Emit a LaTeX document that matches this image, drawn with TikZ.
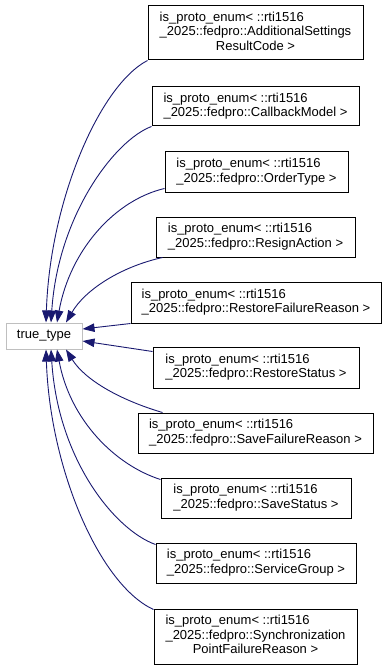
\documentclass[tikz,border=0pt]{standalone}
\usepackage{fontspec}
\setmainfont{Liberation Sans}
\usetikzlibrary{arrows.meta}
\definecolor{edgeblue}{HTML}{191970}
\definecolor{ttgray}{HTML}{BFBFBF}
\newcommand{\twol}[2]{\begin{tabular}{@{}l@{}}#1\\#2\end{tabular}}
\newcommand{\threel}[3]{\begin{tabular}{@{}l@{}}#1\\#2\\\multicolumn{1}{@{}c@{}}{#3}\end{tabular}}
\begin{document}
\begin{tikzpicture}[x=1pt,y=1pt,
 cls/.style={draw=black, line width=1pt, fill=white, inner sep=0pt, font=\fontsize{13}{14.5}\selectfont},
 base/.style={draw=ttgray, line width=1pt, fill=white, inner sep=0pt, font=\fontsize{13}{14.5}\selectfont},
 edge/.style={draw=edgeblue, line width=0.9pt, -{Triangle[length=12pt,width=8.5pt]}}]
\useasboundingbox (0,0) rectangle (387,-671);
\node[cls, minimum width=215pt, minimum height=54pt] (b1) at (255.5,-33) {\threel{is\_proto\_enum< ::rti1516}{\_2025::fedpro::AdditionalSettings}{ResultCode >}};
\node[cls, minimum width=207pt, minimum height=39pt] (b2) at (255.5,-106.5) {\twol{is\_proto\_enum< ::rti1516}{\_2025::fedpro::CallbackModel >}};
\node[cls, minimum width=183pt, minimum height=40pt] (b3) at (256.5,-172) {\twol{is\_proto\_enum< ::rti1516}{\_2025::fedpro::OrderType >}};
\node[cls, minimum width=199pt, minimum height=40pt] (b4) at (255.5,-237) {\twol{is\_proto\_enum< ::rti1516}{\_2025::fedpro::ResignAction >}};
\node[cls, minimum width=250pt, minimum height=41pt] (b5) at (256,-302.5) {\twol{is\_proto\_enum< ::rti1516}{\_2025::fedpro::RestoreFailureReason >}};
\node[base, minimum width=76pt, minimum height=26pt] (tt) at (44,-336) {true\_type};
\node[cls, minimum width=206pt, minimum height=41pt] (b6) at (256,-367.5) {\twol{is\_proto\_enum< ::rti1516}{\_2025::fedpro::RestoreStatus >}};
\node[cls, minimum width=235pt, minimum height=40pt] (b7) at (255.5,-433) {\twol{is\_proto\_enum< ::rti1516}{\_2025::fedpro::SaveFailureReason >}};
\node[cls, minimum width=190pt, minimum height=40pt] (b8) at (256,-498) {\twol{is\_proto\_enum< ::rti1516}{\_2025::fedpro::SaveStatus >}};
\node[cls, minimum width=200pt, minimum height=40pt] (b9) at (256,-563) {\twol{is\_proto\_enum< ::rti1516}{\_2025::fedpro::ServiceGroup >}};
\node[cls, minimum width=203pt, minimum height=55pt] (b10) at (255.5,-636.5) {\threel{is\_proto\_enum< ::rti1516}{\_2025::fedpro::Synchronization}{PointFailureReason >}};
\coordinate (t1) at (46,-322.5);
\coordinate (t2) at (51,-322.5);
\coordinate (t3) at (57,-322.5);
\coordinate (t4) at (66,-322.5);
\coordinate (t5) at (82.5,-329);
\coordinate (t6) at (82.5,-341);
\coordinate (t7) at (66,-349.5);
\coordinate (t8) at (57,-349.5);
\coordinate (t9) at (51,-349.5);
\coordinate (t10) at (46,-349.5);
\draw[edge] (b1.south west) .. controls (100,-85) and (50,-200) .. (t1);
\draw[edge] (b2.south west) .. controls (115,-140) and (58,-215) .. (t2);
\draw[edge] ([yshift=4pt]b3.south west) .. controls (115,-200) and (70,-250) .. (t3);
\draw[edge] ([xshift=7pt]b4.south west) .. controls (120,-267) and (85,-290) .. (t4);
\draw[edge] (b5.south west) -- (t5);
\draw[edge] ([yshift=-5pt]b6.north west) -- (t6);
\draw[edge] ([xshift=25pt]b7.north west) .. controls (120,-400) and (85,-380) .. (t7);
\draw[edge] ([yshift=-2pt]b8.north west) .. controls (115,-465) and (70,-420) .. (t8);
\draw[edge] ([yshift=-2pt]b9.north west) .. controls (115,-530) and (58,-460) .. (t9);
\draw[edge] ([yshift=-1pt]b10.north west) .. controls (100,-585) and (50,-470) .. (t10);
\end{tikzpicture}
\end{document}
